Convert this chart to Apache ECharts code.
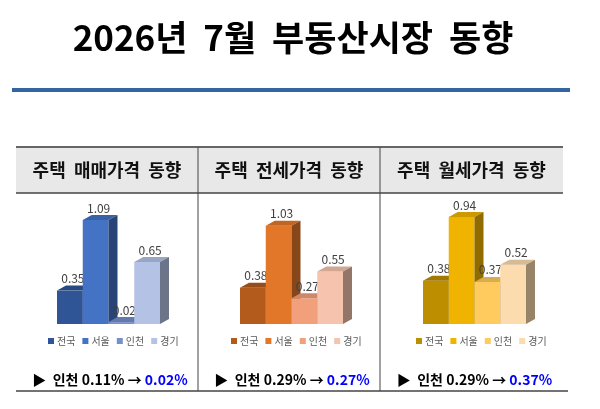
<!DOCTYPE html>
<html>
<head>
<meta charset="utf-8">
<script src="https://cdn.jsdelivr.net/npm/echarts@6/dist/echarts.min.js"></script>
<style>
html,body{margin:0;padding:0;background:#fff;}
#chart{width:600px;height:409px;}
</style>
</head>
<body>
<div id="chart"></div>
<script>
var regions = ['전국', '서울', '인천', '경기'];
var saleValues = [0.35, 1.09, 0.02, 0.65];
var jeonseValues = [0.38, 1.03, 0.27, 0.55];
var rentValues = [0.38, 0.94, 0.37, 0.52];
var panelTitles = ['주택  매매가격  동향', '주택  전세가격  동향', '주택  월세가격  동향'];
var incheonPrev = ['0.11%', '0.29%', '0.29%'];
var incheonNow = ['0.02%', '0.27%', '0.37%'];

var blues = ['#2f5597', '#4472c4', '#7590cc', '#b4c2e6'];
var oranges = ['#b35a1d', '#e2772a', '#f2a07c', '#f6c4ae'];
var golds = ['#bd8e00', '#f0b400', '#ffca5e', '#fcdcae'];

var font = '"Noto Sans CJK KR", "Noto Sans", sans-serif';
var dx = 9, dy = -5;

function shade(hex, k) {
	var n = parseInt(hex.slice(1), 16);
	var r = Math.round(((n >> 16) & 255) * k);
	var g = Math.round(((n >> 8) & 255) * k);
	var b = Math.round((n & 255) * k);
	return 'rgb(' + r + ',' + g + ',' + b + ')';
}

function makeRender(color) {
	return function (params, api) {
		var v = api.value(1);
		var top = api.coord([api.value(0), v]);
		var base = api.coord([api.value(0), 0]);
		var band = api.size([1, 0])[0];
		var x0 = top[0] - band / 2, x1 = top[0] + band / 2;
		var yt = top[1], yb = base[1];
		return {
			type: 'group',
			children: [
				{type: 'rect', shape: {x: x0, y: yt, width: band, height: yb - yt}, style: {fill: color}},
				{type: 'polygon', shape: {points: [[x0, yt], [x0 + dx, yt + dy], [x1 + dx, yt + dy], [x1, yt]]}, style: {fill: shade(color, 0.85)}},
				{type: 'polygon', shape: {points: [[x1, yt], [x1 + dx, yt + dy], [x1 + dx, yb + dy], [x1, yb]]}, style: {fill: shade(color, 0.6)}},
				{type: 'text', style: {x: top[0] + 3, y: yt + dy - 1, text: v.toFixed(2), fill: '#404040', font: '12px ' + font, textAlign: 'center', textVerticalAlign: 'bottom'}}
			]
		};
	};
}

var panels = [
	{values: saleValues, colors: blues, left: 57, max: 1.3, legendLeft: 43},
	{values: jeonseValues, colors: oranges, left: 240, max: 1.3, legendLeft: 226},
	{values: rentValues, colors: golds, left: 423, max: 1.09, legendLeft: 411}
];

var grid = [], xAxis = [], yAxis = [], series = [], legend = [];
panels.forEach(function (p, i) {
	grid.push({left: p.left, width: 103, top: 200, bottom: 85});
	xAxis.push({gridIndex: i, type: 'category', data: regions, show: false});
	yAxis.push({gridIndex: i, type: 'value', min: 0, max: p.max, show: false});
	var names = [];
	regions.forEach(function (r, j) {
		var name = r + '#' + i;
		names.push(name);
		series.push({
			name: name,
			type: 'custom',
			xAxisIndex: i,
			yAxisIndex: i,
			itemStyle: {color: p.colors[j]},
			renderItem: makeRender(p.colors[j]),
			data: [[j, p.values[j]]]
		});
	});
	legend.push({
		data: names,
		left: p.legendLeft,
		top: 331,
		itemWidth: 6,
		itemHeight: 6,
		itemGap: 7,
		icon: 'rect',
		selectedMode: false,
		formatter: function (n) { return n.split('#')[0]; },
		textStyle: {fontSize: 10, color: '#595959', fontFamily: font, padding: [0, 0, 0, -2]}
	});
});

var cols = [[16, 198], [198, 380], [380, 563]];
var graphic = [
	{type: 'text', style: {x: 293, y: 38, text: '2026년  7월  부동산시장  동향', font: 'bold 35px ' + font, fill: '#000', textAlign: 'center', textVerticalAlign: 'middle'}},
	{type: 'rect', shape: {x: 12, y: 88, width: 558, height: 4}, style: {fill: '#3565a0'}},
	{type: 'rect', shape: {x: 16, y: 147, width: 547, height: 46}, style: {fill: '#e8e8e8'}},
	{type: 'line', shape: {x1: 16, y1: 147, x2: 563, y2: 147}, style: {stroke: '#666', lineWidth: 2}},
	{type: 'line', shape: {x1: 16, y1: 193, x2: 563, y2: 193}, style: {stroke: '#444', lineWidth: 1.5}},
	{type: 'line', shape: {x1: 198, y1: 147, x2: 198, y2: 391}, style: {stroke: '#444', lineWidth: 1}},
	{type: 'line', shape: {x1: 380, y1: 147, x2: 380, y2: 391}, style: {stroke: '#444', lineWidth: 1}},
	{type: 'line', shape: {x1: 16, y1: 391, x2: 568, y2: 391}, style: {stroke: '#444', lineWidth: 1.5}}
];
cols.forEach(function (c, i) {
	var cx = (c[0] + c[1]) / 2;
	graphic.push({type: 'text', style: {x: cx, y: 170, text: panelTitles[i], font: 'bold 18px ' + font, fill: '#111', textAlign: 'center', textVerticalAlign: 'middle'}});
	graphic.push({type: 'text', style: {
		x: cx + 3, y: 380, textAlign: 'center', textVerticalAlign: 'middle',
		text: '{a|▶  인천 ' + incheonPrev[i] + ' → }{b|' + incheonNow[i] + '}',
		rich: {
			a: {font: 'bold 14px ' + font, fill: '#000'},
			b: {font: 'bold 14px ' + font, fill: '#0000ff'}
		}
	}});
});

var chart = echarts.init(document.getElementById('chart'));
chart.setOption({
	animation: false,
	grid: grid,
	xAxis: xAxis,
	yAxis: yAxis,
	legend: legend,
	graphic: graphic,
	series: series
});
</script>
</body>
</html>
